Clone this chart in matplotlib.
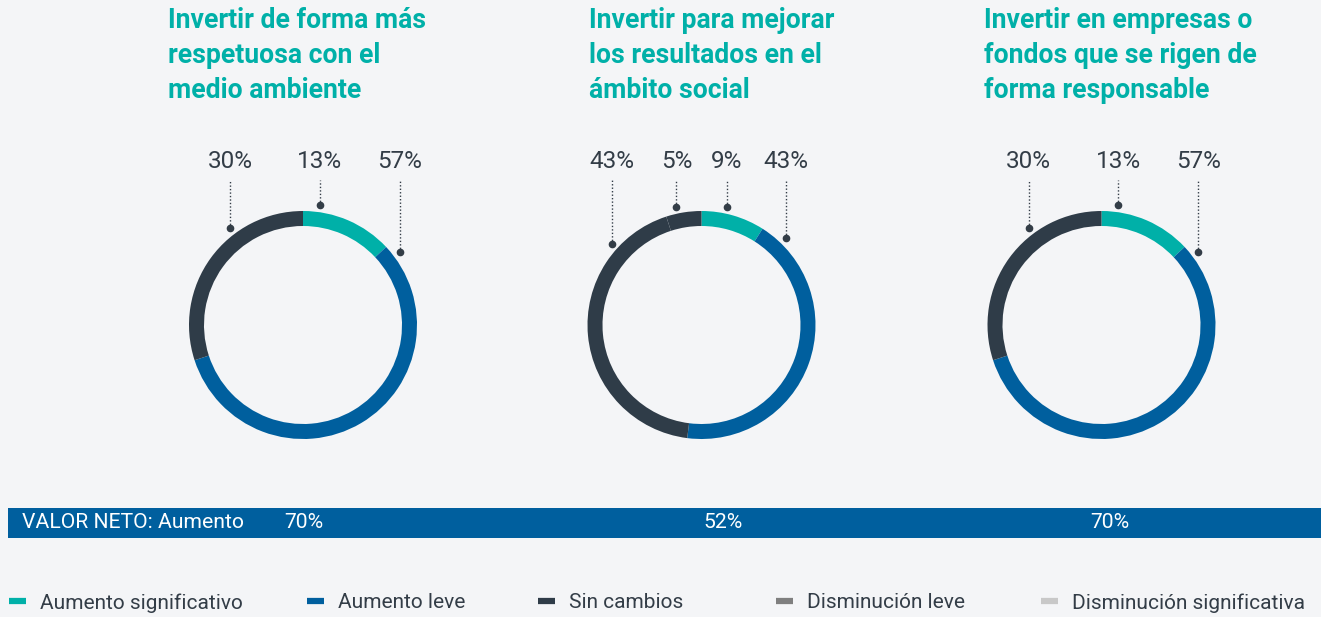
import numpy as np
import matplotlib.pyplot as plt

# categories and values
categories = ["Aumento significativo", "Aumento leve", "Sin cambios",
              "Disminución leve", "Disminución significativa"]
colors = ["#00b0a8", "#005f9e", "#2f3c48", "#7f7f7f", "#c8c8c8"]

titles = ["Invertir de forma más\nrespetuosa con el\nmedio ambiente",
          "Invertir para mejorar\nlos resultados en el\námbito social",
          "Invertir en empresas o\nfondos que se rigen de\nforma responsable"]

values_1 = [13, 57, 30]
values_2 = [9, 43, 43, 5]
values_3 = [13, 57, 30]
slice_colors_1 = [colors[0], colors[1], colors[2]]
slice_colors_2 = [colors[0], colors[1], colors[2], colors[2]]
slice_colors_3 = [colors[0], colors[1], colors[2]]

net_label = "VALOR NETO: Aumento"
net_values = ["70%", "52%", "70%"]

# layout (pixels, y measured from top)
W, H = 1321, 617
centers_x = [303, 701.5, 1101.5]
center_y = 325
radius = 114
ring = 15
title_x = [168, 589, 984]
net_x = [304, 723, 1110]
# angle (deg, from +x axis, ccw) of the pointer dot for each slice
dot_angles_1 = [82, 37, 127]
dot_angles_2 = [78, 46, 138, 102]
dot_angles_3 = [82, 37, 127]

bg = "#f4f5f7"
text_col = "#333d47"

plt.rcParams["font.family"] = ["Roboto", "DejaVu Sans"]
fig = plt.figure(figsize=(W / 100, H / 100), dpi=100, facecolor=bg)
ax = fig.add_axes([0, 0, 1, 1])
ax.set_facecolor(bg)


def Y(y):
    return H - y


charts = [(values_1, slice_colors_1, dot_angles_1),
          (values_2, slice_colors_2, dot_angles_2),
          (values_3, slice_colors_3, dot_angles_3)]

for i, (vals, cols, angs) in enumerate(charts):
    cx = centers_x[i]
    ax.pie(vals, colors=cols, startangle=90, counterclock=False,
           center=(cx, Y(center_y)), radius=radius,
           wedgeprops=dict(width=ring, linewidth=0))
    ax.text(title_x[i], Y(7), titles[i], color="#00b0a8", fontsize=19.2,
            fontweight="bold", ha="left", va="top", linespacing=1.38)
    for v, a in zip(vals, angs):
        r = radius + 7
        dx = cx + r * np.cos(np.radians(a))
        dy = Y(center_y) + r * np.sin(np.radians(a))
        ax.plot([dx, dx], [dy, Y(180)], color=text_col, lw=1, ls=(0, (1, 1.5)))
        ax.plot(dx, dy, "o", color=text_col, ms=4.5)
        ax.text(dx, Y(162), f"{v}%", color=text_col, fontsize=17.5,
                ha="center", va="center")

# net value band
ax.barh(Y(523), W - 8, height=30, left=8, color="#005f9e")
ax.text(22, Y(523), net_label, color="white", fontsize=15.2,
        ha="left", va="center")
for x, t in zip(net_x, net_values):
    ax.text(x, Y(523), t, color="white", fontsize=15.2,
            ha="center", va="center")

# legend
leg_marker_x = [9, 307, 538, 776, 1041]
for x, c, lab in zip(leg_marker_x, colors, categories):
    ax.plot([x, x + 17], [Y(601), Y(601)], color=c, lw=4.5,
            solid_capstyle="butt")
    ax.text(x + 31, Y(603), lab, color=text_col, fontsize=15,
            ha="left", va="center")

ax.set_xlim(0, W)
ax.set_ylim(0, H)
ax.set_aspect("auto")
ax.axis("off")

fig.savefig("out.png", dpi=100, facecolor=bg)
